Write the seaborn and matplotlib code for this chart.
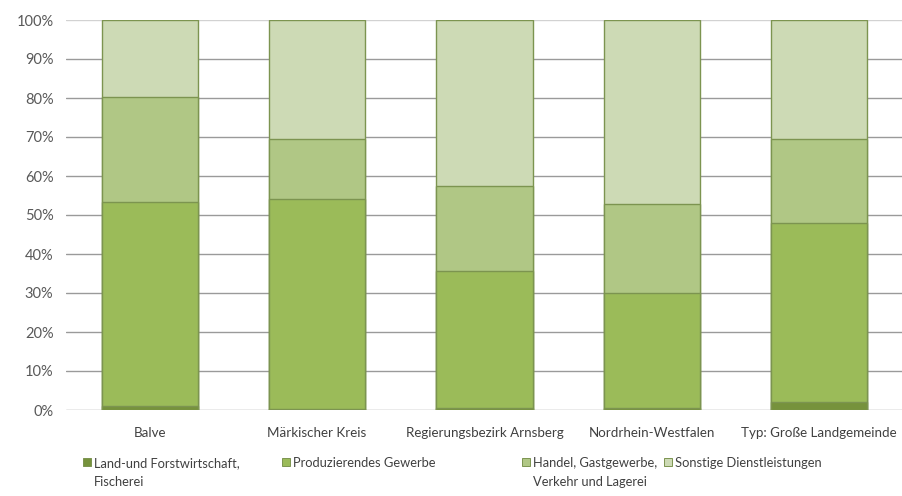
import matplotlib
matplotlib.use("Agg")
import matplotlib.pyplot as plt
from matplotlib.lines import Line2D
from matplotlib.ticker import PercentFormatter
import numpy as np
import pandas as pd
import seaborn as sns

regions = ["Balve", "Märkischer Kreis", "Regierungsbezirk Arnsberg",
           "Nordrhein-Westfalen", "Typ: Große Landgemeinde"]
sector_lines = [["Land-und Forstwirtschaft,", "Fischerei"],
                ["Produzierendes Gewerbe"],
                ["Handel, Gastgewerbe,", "Verkehr und Lagerei"],
                ["Sonstige Dienstleistungen"]]

land = [1.0, 0.3, 0.4, 0.6, 2.0]
produzierend = [52.4, 53.7, 35.2, 29.4, 46.0]
handel = [26.8, 15.4, 21.8, 22.8, 21.4]
sonstige = [19.8, 30.6, 42.6, 47.2, 30.6]

colors = ["#76923c", "#9bbb59", "#b0c785", "#cddab5"]
edge = "#7c9450"

sns.set_theme(style="white")
plt.rcParams["font.family"] = ["Lato", "DejaVu Sans"]

W, H = 903, 496
TXT = 9.6
LEG = 9.3
series = [land, produzierend, handel, sonstige]
cum = np.cumsum(np.array(series), axis=0)

fig = plt.figure(figsize=(W / 100, H / 100), dpi=100)
ax = fig.add_axes([66 / W, 86 / H, 837 / W, 390 / H])

# stacked bars: draw cumulative totals from the top segment down
for i in range(len(series) - 1, -1, -1):
    df = pd.DataFrame({"Region": regions, "Anteil": cum[i]})
    sns.barplot(data=df, x="Region", y="Anteil", color=colors[i],
                saturation=1, width=0.575, edgecolor=edge, linewidth=1.0,
                ax=ax, zorder=3)

ax.set_ylim(0, 100)
ax.set_xlim(-0.5, len(regions) - 0.5)
ax.set_yticks(np.arange(0, 101, 10))
ax.yaxis.set_major_formatter(PercentFormatter(decimals=0))
ax.grid(axis="y", color="#9a9a9a", linewidth=1.0, zorder=0)
ax.grid(axis="x", visible=False)
ax.yaxis.get_gridlines()[-1].set_color("#d2d2d2")
for s in ax.spines.values():
    s.set_visible(False)
ax.set_xlabel("")
ax.set_ylabel("")
ax.tick_params(axis="y", length=0, pad=9, labelsize=10.5, labelcolor="#595959")
ax.tick_params(axis="x", length=0, pad=12, labelsize=TXT, labelcolor="#404040")

# legend entries, each placed on its own, with a wrapped second line
legend_x = [83, 282, 522, 664]
fig.canvas.draw()
for c, lines, x in zip(colors, sector_lines, legend_x):
    handle = Line2D([], [], linestyle="none", marker="s", markersize=6.2,
                    markerfacecolor=c, markeredgecolor=edge, markeredgewidth=0.7)
    leg = fig.legend([handle], [lines[0]], loc="center left",
                     bbox_to_anchor=(x / W, 1 - 463 / H), frameon=False,
                     fontsize=LEG, handlelength=0.65, handletextpad=0.2,
                     borderpad=0, borderaxespad=0)
    txt = leg.get_texts()[0]
    txt.set_color("#404040")
    if len(lines) > 1:
        fig.canvas.draw()
        bb = txt.get_window_extent()
        fig.text(bb.x0 / W, 1 - 482 / H, lines[1], fontsize=LEG,
                 color="#404040", ha="left", va="center")

fig.savefig("out.png", dpi=100)
